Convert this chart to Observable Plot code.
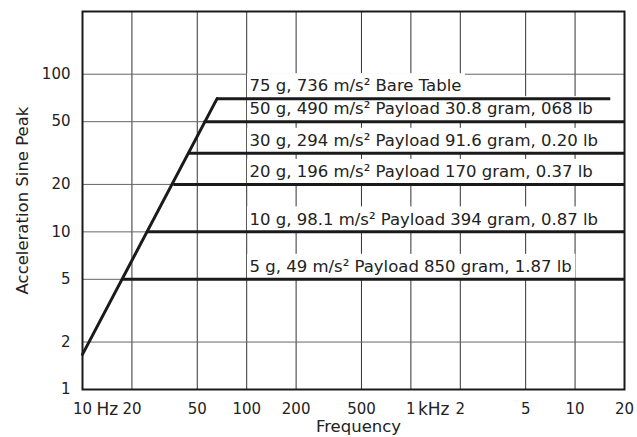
<!DOCTYPE html>
<html>
<head>
<meta charset="utf-8">
<script src="https://cdn.jsdelivr.net/npm/d3@7"></script>
<script src="https://cdn.jsdelivr.net/npm/@observablehq/plot@0.6"></script>
<style>
  html, body { margin: 0; padding: 0; background: #fff; }
  #chart { width: 637px; height: 437px; }
</style>
</head>
<body>
<div id="chart"></div>
<script>
// ---- data ----
const xTicks = [10, 20, 50, 100, 200, 500, 1000, 2000, 5000, 10000, 20000];
const xTickLabels = ["10", "20", "50", "100", "200", "500", "1", "2", "5", "10", "20"];
const yTicks = [1, 2, 5, 10, 20, 50, 100];

// constant-displacement segment (read endpoints)
const slopeHz = [10, 66];
const slopeG = [1.67, 70];

// horizontal acceleration limits
const levelG = [70, 50, 31.5, 20, 10, 5];
const levelStartHz = [66, 55, 44, 36, 25, 17.5];
const levelEndHz = [16500, 20000, 20000, 20000, 20000, 20000];
const levelLabels = [
  "75 g, 736 m/s\u00B2 Bare Table",
  "50 g, 490 m/s\u00B2 Payload 30.8 gram, 068 lb",
  "30 g, 294 m/s\u00B2 Payload 91.6 gram, 0.20 lb",
  "20 g, 196 m/s\u00B2 Payload 170 gram, 0.37 lb",
  "10 g, 98.1 m/s\u00B2 Payload 394 gram, 0.87 lb",
  "5 g, 49 m/s\u00B2 Payload 850 gram, 1.87 lb"
];
const labelHz = 104;

// ---- layout constants ----
const W = 637, H = 437, mL = 82, mR = 13, mT = 11, mB = 48;
const xDomain = [10, 20000], yDomain = [1, 250];
const font = "'DejaVu Sans', sans-serif";
const labelSize = 16.5;
const ink = "#222";

// helper scales (same as Plot's) to size the white label boxes
const xs = d3.scaleLog().domain(xDomain).range([mL, W - mR]);
const ys = d3.scaleLog().domain(yDomain).range([H - mB, mT]);
const ctx = document.createElement("canvas").getContext("2d");
ctx.font = `${labelSize}px 'DejaVu Sans'`;

// ---- tables ----
const slope = slopeHz.map((f, i) => ({f, g: slopeG[i]}));
const levels = levelG.map((g, i) => ({g, f1: levelStartHz[i], f2: levelEndHz[i], text: levelLabels[i]}));
const boxes = levels.map(d => {
  const px0 = xs(labelHz) - 2;
  const px1 = xs(labelHz) + ctx.measureText(d.text).width + 4;
  return {x1: xs.invert(px0), x2: xs.invert(px1), y1: d.g, y2: ys.invert(ys(d.g) - 25)};
});
const xLabelMap = new Map(xTicks.map((t, i) => [t, xTickLabels[i]]));
const xUnitsHz = [{f: 10, u: "Hz"}];
const xUnitsKHz = [{f: 1000, u: "kHz"}];

const chart = Plot.plot({
  width: W,
  height: H,
  marginLeft: mL,
  marginRight: mR,
  marginTop: mT,
  marginBottom: mB,
  style: {fontFamily: font, fontSize: "15px", color: ink, background: "#fff"},
  x: {type: "log", domain: xDomain, axis: null},
  y: {type: "log", domain: yDomain},
  marks: [
    Plot.ruleX(xTicks.slice(1, -1), {stroke: "#333", strokeWidth: 1}),
    Plot.ruleY(yTicks.slice(1), {stroke: "#666", strokeWidth: 1}),
    Plot.rect(boxes, {x1: "x1", x2: "x2", y1: "y1", y2: "y2", fill: "#fff"}),
    Plot.text(levels, {
      x: () => labelHz, y: "g", text: "text",
      textAnchor: "start", lineAnchor: "middle", dy: -12.5,
      fill: ink, fontSize: labelSize
    }),
    Plot.line(slope, {x: "f", y: "g", stroke: "#1a1a1a", strokeWidth: 3}),
    Plot.ruleY(levels, {y: "g", x1: "f1", x2: "f2", stroke: "#1a1a1a", strokeWidth: 3}),
    Plot.frame({stroke: "#1a1a1a", strokeWidth: 2}),
    // x tick labels
    Plot.text(xTicks, {
      x: d => d, y: () => yDomain[0], text: d => xLabelMap.get(d),
      textAnchor: "middle", lineAnchor: "middle", dy: 20, fontSize: 15, fill: ink
    }),
    Plot.text(xUnitsHz, {
      x: "f", y: () => yDomain[0], text: "u", textAnchor: "start",
      lineAnchor: "middle", dx: 14, dy: 20, fontSize: 17, fill: ink
    }),
    Plot.text(xUnitsKHz, {
      x: "f", y: () => yDomain[0], text: "u", textAnchor: "start",
      lineAnchor: "middle", dx: 7, dy: 20, fontSize: 17, fill: ink
    }),
    // y tick labels
    Plot.axisY(yTicks, {
      tickSize: 0, tickPadding: 12, fontSize: 15,
      tickFormat: d => String(d), label: null
    }),
    // axis titles
    Plot.text(["Frequency"], {
      frameAnchor: "bottom", text: d => d, dx: 5, dy: 37,
      textAnchor: "middle", lineAnchor: "middle", fontSize: 16.5, fill: ink
    }),
    Plot.text(["Acceleration Sine Peak"], {
      frameAnchor: "left", text: d => d, rotate: -90, dx: -60,
      textAnchor: "middle", lineAnchor: "middle", fontSize: 16.5, fill: ink
    })
  ]
});
document.getElementById("chart").appendChild(chart);
</script>
</body>
</html>
